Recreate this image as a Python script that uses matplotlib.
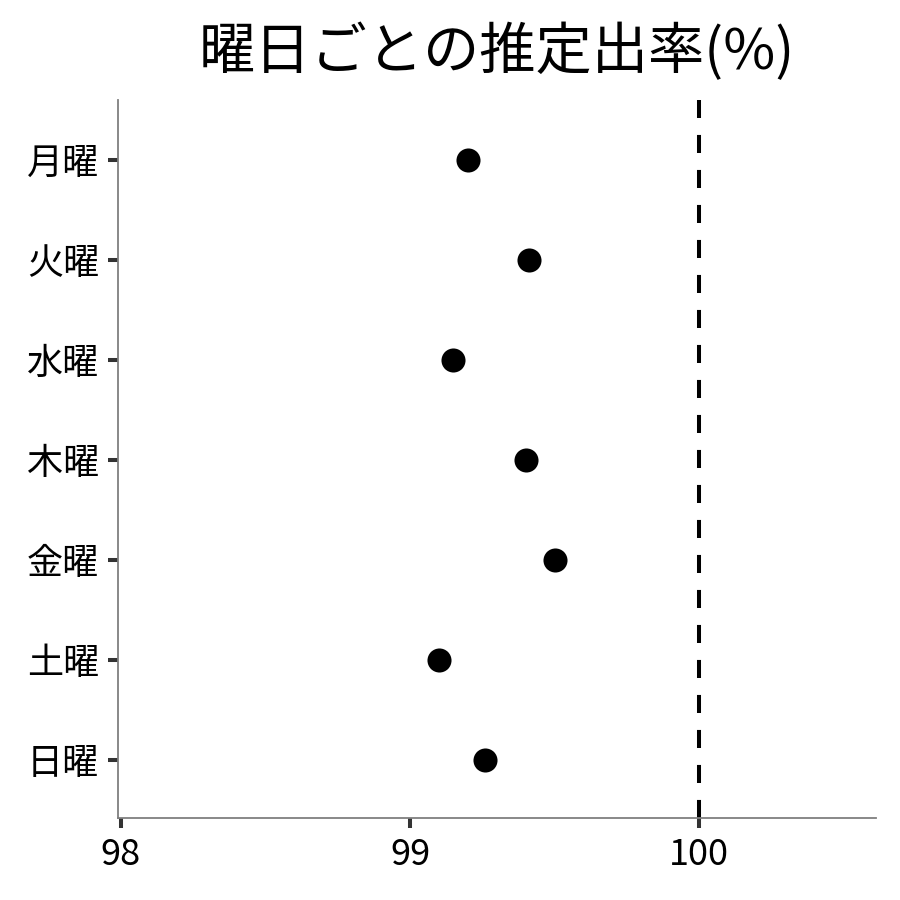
import matplotlib
matplotlib.use("Agg")
import matplotlib.pyplot as plt

plt.rcParams['font.family'] = ['Noto Sans CJK JP', 'DejaVu Sans']
plt.rcParams['lines.scale_dashes'] = False

# data
days = ['月曜', '火曜', '水曜', '木曜', '金曜', '土曜', '日曜']
rates = [99.20, 99.41, 99.15, 99.40, 99.50, 99.10, 99.26]
xticks = [98, 99, 100]
ref_line = 100

fig = plt.figure(figsize=(9, 9), dpi=100)
ax = fig.add_axes([0.131, 0.091, 0.842, 0.798])

ypos = list(range(len(days)))[::-1]  # 月曜 on top
ax.scatter(rates, ypos, s=300, color='black', linewidths=0, zorder=3)
ax.axvline(ref_line, color='black', lw=2.9, dashes=(13, 12.2), zorder=2)

ax.set_yticks(ypos)
ax.set_yticklabels(days)
ax.set_xticks(xticks)
ax.set_xlim(97.99, 100.61)
ax.set_ylim(-0.58, 6.6)

for side in ['top', 'right']:
    ax.spines[side].set_visible(False)
for side in ['left', 'bottom']:
    ax.spines[side].set_color('#7f7f7f')
    ax.spines[side].set_linewidth(1.3)

ax.tick_params(axis='both', colors='#333333', length=7.5, width=2.9,
               labelsize=26, labelcolor='black', pad=6)

ax.set_title('曜日ごとの推定出率(%)', fontsize=40.5, pad=22)

fig.savefig('out.png', dpi=100)
